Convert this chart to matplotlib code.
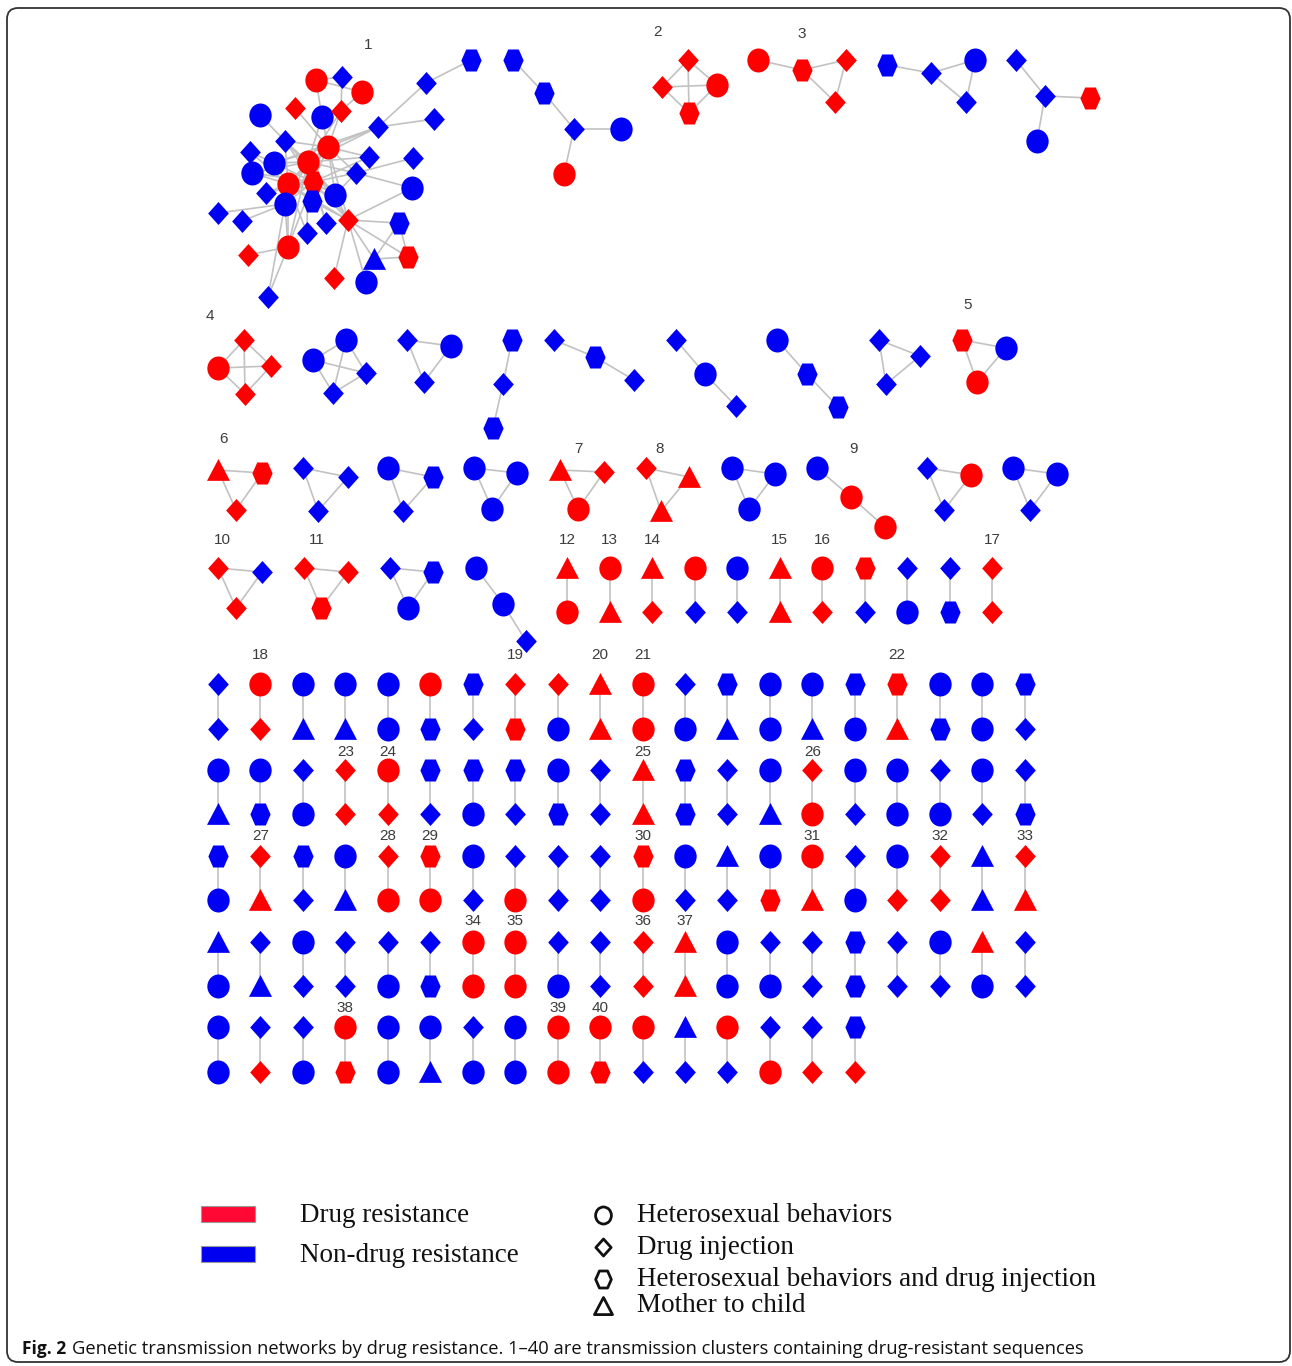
import numpy as np
import matplotlib
matplotlib.use("Agg")
import matplotlib.pyplot as plt
from matplotlib.path import Path
from matplotlib.patches import FancyBboxPatch, Rectangle

# ---------------------------------------------------------------- data ---
# Node code: first letter = resistance status (r: drug resistance,
# b: non-drug resistance); second letter = transmission route
# (o: heterosexual, d: drug injection, h: heterosexual + drug injection,
#  t: mother to child)

# Cluster 1, the large network
c1_nodes = ["ro", "bd", "ro", "rd", "bo", "rd", "bo", "bd", "bd", "bd",
            "bh", "bd", "ro", "bd", "ro", "bd", "bd", "bo", "bo", "bd",
            "ro", "rh", "bo", "bd", "bo", "bh", "bo", "bd", "bd", "bd",
            "rd", "bh", "bd", "ro", "rd", "bt", "rh", "rd", "bo", "bd"]
c1_edges = [(0, 1), (0, 2), (0, 4), (1, 5), (2, 5), (3, 12), (4, 12), (4, 14),
            (5, 12), (5, 14), (6, 11), (7, 9), (7, 8), (7, 12), (7, 14), (7, 17),
            (9, 10), (11, 12), (11, 14), (11, 20), (11, 21), (11, 24),
            (12, 15), (12, 14), (12, 20), (12, 21), (12, 24), (12, 19), (12, 17),
            (13, 17), (13, 20), (14, 15), (14, 21), (14, 20), (14, 24), (14, 19),
            (14, 17), (14, 18), (14, 26), (14, 30), (15, 21), (16, 19), (19, 21),
            (19, 22), (19, 24), (17, 20), (17, 21), (18, 20), (18, 21), (20, 21),
            (20, 23), (21, 23), (21, 24), (21, 25), (20, 25), (20, 24), (24, 30),
            (25, 30), (26, 21), (26, 27), (26, 28), (26, 33), (26, 39), (26, 12),
            (29, 21), (29, 14), (30, 12), (30, 20), (30, 31), (30, 35), (30, 36),
            (30, 37), (30, 38), (30, 22), (30, 21), (31, 35), (31, 36), (35, 36),
            (32, 20), (32, 14), (33, 34), (33, 39), (33, 20), (33, 21), (33, 14)]

K4 = [(0, 1), (0, 2), (0, 3), (1, 2), (1, 3), (2, 3)]
PAW = [(0, 1), (1, 2), (1, 3), (2, 3)]
TRI = [(0, 1), (0, 2), (1, 2)]
CHAIN = [(0, 1), (1, 2)]

# Clusters with three to five members: (cluster number or None, nodes, edges)
small_clusters = [
    (None, ["bh", "bh", "bd", "bo", "ro"], [(0, 1), (1, 2), (2, 3), (2, 4)]),
    (2, ["rd", "rd", "ro", "rh"], K4),
    (3, ["ro", "rh", "rd", "rd"], PAW),
    (None, ["bh", "bd", "bo", "bd"], PAW),
    (None, ["bd", "bd", "rh", "bo"], [(0, 1), (1, 2), (1, 3)]),
    (4, ["rd", "ro", "rd", "rd"], K4),
    (None, ["bo", "bo", "bd", "bd"], K4),
    (None, ["bd", "bo", "bd"], TRI),
    (None, ["bh", "bd", "bh"], CHAIN),
    (None, ["bd", "bh", "bd"], CHAIN),
    (None, ["bd", "bo", "bd"], CHAIN),
    (None, ["bo", "bh", "bh"], CHAIN),
    (None, ["bd", "bd", "bd"], TRI),
    (5, ["rh", "bo", "ro"], TRI),
    (6, ["rt", "rh", "rd"], TRI),
    (None, ["bd", "bd", "bd"], TRI),
    (None, ["bo", "bh", "bd"], TRI),
    (None, ["bo", "bo", "bo"], TRI),
    (7, ["rt", "rd", "ro"], TRI),
    (8, ["rd", "rt", "rt"], TRI),
    (None, ["bo", "bo", "bo"], TRI),
    (9, ["bo", "ro", "ro"], CHAIN),
    (None, ["bd", "ro", "bd"], TRI),
    (None, ["bo", "bo", "bd"], TRI),
    (10, ["rd", "bd", "rd"], TRI),
    (11, ["rd", "rd", "rh"], TRI),
    (None, ["bd", "bh", "bo"], TRI),
    (None, ["bo", "bo", "bd"], CHAIN),
]

# Two-member clusters, one row per line: upper members, lower members,
# and cluster numbers keyed by column
pair_top_0 = ["rt", "ro", "rt", "ro", "bo", "rt", "ro", "rh", "bd", "bd", "rd"]
pair_bot_0 = ["ro", "rt", "rd", "bd", "bd", "rt", "rd", "bd", "bo", "bh", "rd"]
pair_num_0 = {0: 12, 1: 13, 2: 14, 5: 15, 6: 16, 10: 17}

pair_top_1 = ["bd", "ro", "bo", "bo", "bo", "ro", "bh", "rd", "rd", "rt",
              "ro", "bd", "bh", "bo", "bo", "bh", "rh", "bo", "bo", "bh"]
pair_bot_1 = ["bd", "rd", "bt", "bt", "bo", "bh", "bd", "rh", "bo", "rt",
              "ro", "bo", "bt", "bo", "bt", "bo", "rt", "bh", "bo", "bd"]
pair_num_1 = {1: 18, 7: 19, 9: 20, 10: 21, 16: 22}

pair_top_2 = ["bo", "bo", "bd", "rd", "ro", "bh", "bh", "bh", "bo", "bd",
              "rt", "bh", "bd", "bo", "rd", "bo", "bo", "bd", "bo", "bd"]
pair_bot_2 = ["bt", "bh", "bo", "rd", "rd", "bd", "bo", "bd", "bh", "bd",
              "rt", "bh", "bd", "bt", "ro", "bd", "bo", "bo", "bd", "bh"]
pair_num_2 = {3: 23, 4: 24, 10: 25, 14: 26}

pair_top_3 = ["bh", "rd", "bh", "bo", "rd", "rh", "bo", "bd", "bd", "bd",
              "rh", "bo", "bt", "bo", "ro", "bd", "bo", "rd", "bt", "rd"]
pair_bot_3 = ["bo", "rt", "bd", "bt", "ro", "ro", "bd", "ro", "bd", "bd",
              "ro", "bd", "bd", "rh", "rt", "bo", "rd", "rd", "bt", "rt"]
pair_num_3 = {1: 27, 4: 28, 5: 29, 10: 30, 14: 31, 17: 32, 19: 33}

pair_top_4 = ["bt", "bd", "bo", "bd", "bd", "bd", "ro", "ro", "bd", "bd",
              "rd", "rt", "bo", "bd", "bd", "bh", "bd", "bo", "rt", "bd"]
pair_bot_4 = ["bo", "bt", "bd", "bd", "bo", "bh", "ro", "ro", "bo", "bd",
              "rd", "rt", "bo", "bo", "bd", "bh", "bd", "bd", "bo", "bd"]
pair_num_4 = {6: 34, 7: 35, 10: 36, 11: 37}

pair_top_5 = ["bo", "bd", "bd", "ro", "bo", "bo", "bd", "bo",
              "ro", "ro", "ro", "bt", "ro", "bd", "bd", "bh"]
pair_bot_5 = ["bo", "rd", "bo", "rh", "bo", "bt", "bo", "bo",
              "ro", "rh", "bd", "bd", "bd", "ro", "rd", "rd"]
pair_num_5 = {3: 38, 8: 39, 9: 40}

legend_status = ["Drug resistance", "Non-drug resistance"]
legend_route = ["Heterosexual behaviors", "Drug injection",
                "Heterosexual behaviors and drug injection", "Mother to child"]
caption_head = "Fig. 2"
caption_body = ("Genetic transmission networks by drug resistance. 1\u201340 are "
                "transmission clusters containing drug-resistant sequences")

# -------------------------------------------------------------- layout ---
c1_pos = [(316, 80), (342, 77), (362, 92), (295, 108), (322, 117), (341, 111),
          (260, 115), (378, 127), (434, 119), (426, 83), (471, 60), (285, 141),
          (328, 147), (250, 152), (308, 162), (369, 157), (413, 158), (274, 163),
          (252, 173), (356, 173), (288, 184), (313, 182), (412, 188), (266, 193),
          (335, 195), (312, 201), (285, 204), (218, 213), (242, 221), (326, 223),
          (348, 220), (399, 223), (307, 233), (288, 247), (248, 255), (374, 259),
          (408, 257), (334, 278), (366, 282), (268, 297)]
c1_label_pos = (368, 45)

small_pos = [
    [(513, 60), (544, 93), (574, 129), (621, 129), (564, 174)],
    [(688, 60), (662, 87), (717, 85), (689, 113)],
    [(758, 60), (802, 70), (846, 60), (835, 102)],
    [(887, 65), (931, 73), (975, 60), (966, 102)],
    [(1016, 60), (1045, 96), (1090, 98), (1037, 141)],
    [(244, 340), (218, 368), (271, 366), (245, 394)],
    [(346, 340), (313, 360), (366, 373), (333, 393)],
    [(407, 340), (451, 346), (424, 382)],
    [(512, 340), (503, 384), (493, 428)],
    [(554, 340), (595, 357), (634, 380)],
    [(676, 340), (705, 374), (736, 406)],
    [(777, 340), (807, 374), (838, 407)],
    [(879, 340), (920, 356), (886, 384)],
    [(962, 340), (1006, 348), (977, 382)],
    [(218, 470), (262, 473), (236, 510)],
    [(303, 468), (348, 477), (318, 511)],
    [(388, 468), (433, 477), (403, 511)],
    [(474, 468), (517, 473), (492, 509)],
    [(560, 470), (604, 472), (578, 509)],
    [(646, 468), (689, 477), (661, 511)],
    [(732, 468), (775, 474), (749, 509)],
    [(817, 468), (851, 497), (885, 527)],
    [(927, 468), (971, 475), (944, 510)],
    [(1013, 468), (1057, 474), (1030, 510)],
    [(218, 568), (262, 572), (236, 608)],
    [(304, 568), (348, 572), (321, 608)],
    [(390, 568), (433, 572), (408, 608)],
    [(476, 568), (503, 604), (526, 641)],
]
small_label_pos = {2: (658, 32), 3: (802, 34), 4: (210, 316), 5: (968, 305),
                   6: (224, 439), 7: (578, 449), 8: (660, 449), 9: (854, 449),
                   10: (222, 540), 11: (317, 540)}

# (x of first column, column step, y of upper member, y of lower member, label y)
pair_rows = [
    (pair_top_0, pair_bot_0, pair_num_0, 567.0, 42.5, 568, 612, 540),
    (pair_top_1, pair_bot_1, pair_num_1, 218.0, 42.45, 684, 729, 655),
    (pair_top_2, pair_bot_2, pair_num_2, 218.0, 42.45, 770, 814, 752),
    (pair_top_3, pair_bot_3, pair_num_3, 218.0, 42.45, 856, 900, 836),
    (pair_top_4, pair_bot_4, pair_num_4, 218.0, 42.45, 942, 986, 921),
    (pair_top_5, pair_bot_5, pair_num_5, 218.0, 42.45, 1027, 1072, 1008),
]

# --------------------------------------------------------------- style ---
RED = "#ff0000"
BLUE = "#0000f5"
EDGE = "#c2c2c2"
PX2PT = 72.0 / 100.0


def shape_path(kind):
    if kind == "o":
        c = Path.unit_circle()
        return Path(c.vertices * np.array([0.93, 1.0]), c.codes)
    if kind == "d":
        v = [(0, 1), (0.9, 0), (0, -1), (-0.9, 0), (0, 1)]
        return Path(v, closed=True)
    if kind == "h":
        v = [(-0.92, 0), (-0.48, 1.0), (0.48, 1.0), (0.92, 0),
             (0.48, -1.0), (-0.48, -1.0), (-0.92, 0)]
        return Path(v, closed=True)
    v = [(0, 1), (1.0, -0.9), (-1.0, -0.9), (0, 1)]
    return Path(v, closed=True)


SHAPE_HEIGHT_PX = {"o": 24, "d": 23, "h": 22, "t": 23}
PATHS = {k: shape_path(k) for k in "odht"}

fig = plt.figure(figsize=(12.92, 13.66), dpi=100)
ax = fig.add_axes([0, 0, 1, 1])
ax.set_xlim(0, 1292)
ax.set_ylim(1366, 0)
ax.axis("off")


def draw_edges(pos, edges):
    for a, b in edges:
        ax.plot([pos[a][0], pos[b][0]], [pos[a][1], pos[b][1]],
                color=EDGE, lw=1.2, zorder=1, solid_capstyle="butt")


def draw_nodes(pos, codes):
    for (x, y), code in zip(pos, codes):
        col = RED if code[0] == "r" else BLUE
        kind = code[1]
        s = (SHAPE_HEIGHT_PX[kind] * PX2PT) ** 2
        ax.scatter([x], [y], s=s, marker=PATHS[kind], c=col,
                   linewidths=0, zorder=3)


def draw_label(num, x, y):
    ax.text(x, y, str(num), ha="center", va="center", fontsize=11,
            family="Liberation Sans", color="#3c3c3c", zorder=4)


# cluster 1
draw_edges(c1_pos, c1_edges)
draw_nodes(c1_pos, c1_nodes)
draw_label(1, *c1_label_pos)

# small clusters
for (num, codes, edges), pos in zip(small_clusters, small_pos):
    draw_edges(pos, edges)
    draw_nodes(pos, codes)
    if num is not None:
        draw_label(num, *small_label_pos[num])

# pairs
for tops, bots, nums, x0, dx, yt, yb, yl in pair_rows:
    for i, (t, b) in enumerate(zip(tops, bots)):
        x = x0 + i * dx
        pos = [(x, yt), (x, yb)]
        draw_edges(pos, [(0, 1)])
        draw_nodes(pos, [t, b])
        if i in nums:
            draw_label(nums[i], x, yl)

# ------------------------------------------------------------- legend ---
renderer = fig.canvas.get_renderer()


def fit_text(x, y, s, width_px, **kw):
    t = ax.text(x, y, s, **kw)
    bb = t.get_window_extent(renderer=renderer)
    t.set_fontsize(t.get_fontsize() * width_px / bb.width)
    return t


for col, yc in zip(["#ff0833", "#0000f0"], [1214, 1254]):
    ax.add_patch(Rectangle((201, yc - 8), 54, 16, facecolor=col,
                           edgecolor="#9a9a9a", lw=0.8, zorder=3))

fs_leg = 19.5
status_y = [1215, 1256]
for label, yc in zip(legend_status, status_y):
    ax.text(300, yc, label, ha="left", va="center", fontsize=fs_leg,
            family="Liberation Serif", color="#111111")

route_y = [1215, 1247, 1279, 1306]
route_kind = ["o", "d", "h", "t"]
route_h = {"o": 17, "d": 17, "h": 17, "t": 18}
for label, yc, kind in zip(legend_route, route_y, route_kind):
    ax.scatter([603], [yc], s=(route_h[kind] * PX2PT) ** 2, marker=PATHS[kind],
               facecolors="white", edgecolors="#111111", linewidths=2.0, zorder=3)
    ax.text(637, yc, label, ha="left", va="center", fontsize=fs_leg,
            family="Liberation Serif", color="#111111")

# ------------------------------------------------------------ caption ---
head = ax.text(22, 1349, caption_head, ha="left", va="center", fontsize=12.5,
               family="Open Sans", fontweight="bold", color="#111111")
hb = head.get_window_extent(renderer=renderer)
fit_text(hb.x1 + 6, 1349, caption_body, 1086 - (hb.x1 + 6), ha="left",
         va="center", fontsize=12.5, family="Open Sans", color="#111111")

# ------------------------------------------------------------- frame ---
ax.add_patch(FancyBboxPatch((7, 8), 1283, 1354,
                            boxstyle="round,pad=0,rounding_size=11",
                            facecolor="none", edgecolor="#333333", lw=1.3,
                            zorder=5))

fig.savefig("out.png", dpi=100, facecolor="white")
